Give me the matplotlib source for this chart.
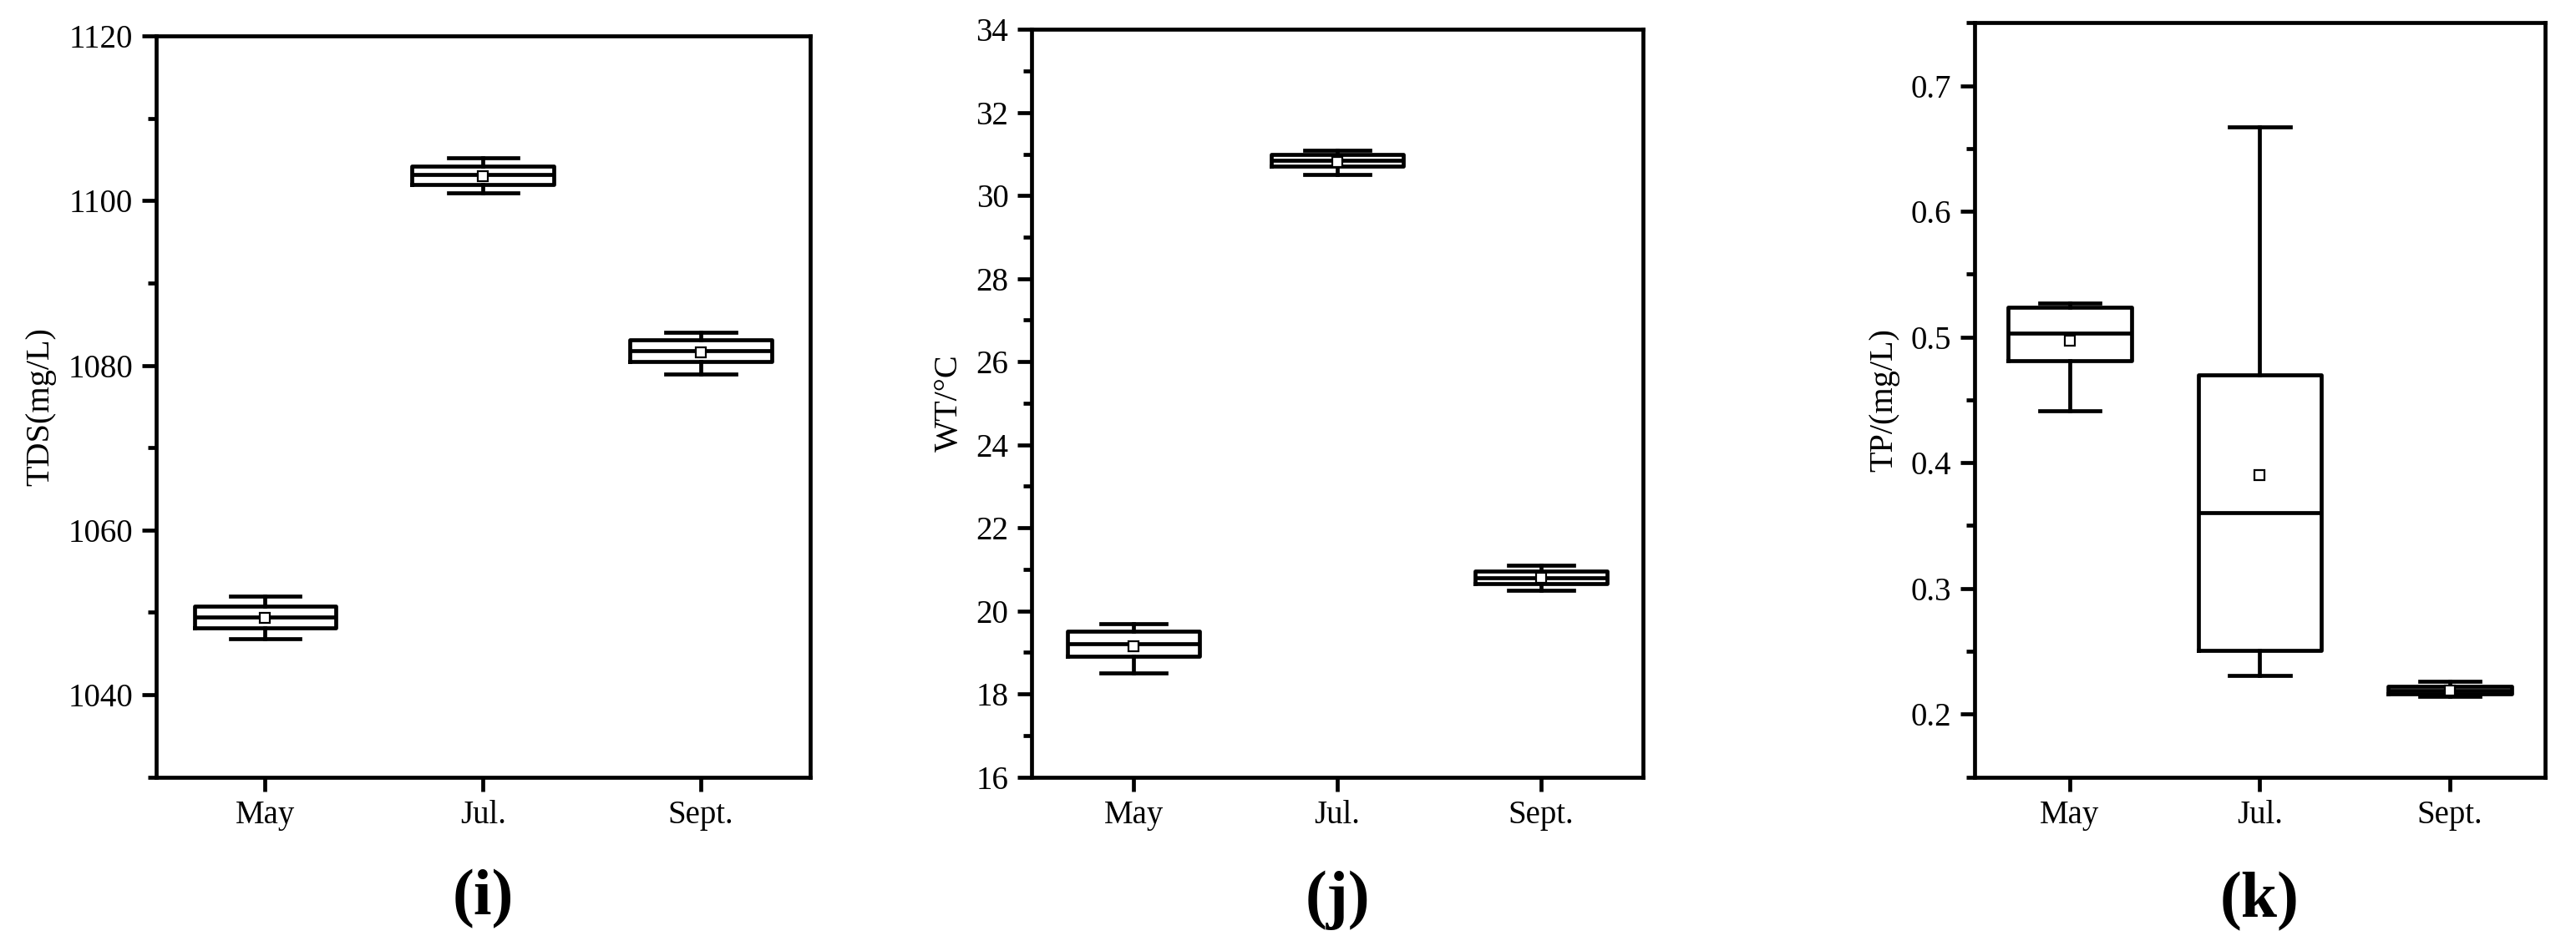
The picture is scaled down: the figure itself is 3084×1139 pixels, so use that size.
import matplotlib
matplotlib.use("Agg")
import matplotlib.pyplot as plt
from matplotlib.ticker import MultipleLocator, AutoMinorLocator

plt.rcParams['font.family'] = ['Liberation Serif', 'DejaVu Serif']

months = ["May", "Jul.", "Sept."]

# TDS (mg/L): whislo, q1, med, q3, whishi, mean
tds_lo = [1046.8, 1101.0, 1078.9]
tds_q1 = [1048.1, 1102.0, 1080.5]
tds_med = [1049.4, 1103.2, 1081.8]
tds_q3 = [1050.7, 1104.2, 1083.1]
tds_hi = [1052.0, 1105.2, 1084.0]
tds_mean = [1049.3, 1103.0, 1081.6]

# WT (°C)
wt_lo = [18.5, 30.5, 20.5]
wt_q1 = [18.9, 30.7, 20.65]
wt_med = [19.2, 30.85, 20.8]
wt_q3 = [19.5, 31.0, 20.95]
wt_hi = [19.7, 31.1, 21.1]
wt_mean = [19.15, 30.8, 20.8]

# TP (mg/L)
tp_lo = [0.441, 0.231, 0.214]
tp_q1 = [0.481, 0.251, 0.216]
tp_med = [0.503, 0.360, 0.219]
tp_q3 = [0.524, 0.470, 0.222]
tp_hi = [0.527, 0.667, 0.226]
tp_mean = [0.497, 0.390, 0.219]

panels = [
    dict(lo=tds_lo, q1=tds_q1, med=tds_med, q3=tds_q3, hi=tds_hi, mean=tds_mean,
         ylabel="TDS(mg/L)", ylim=(1030, 1120), major=20, tag="(i)",
         rect=[0.0606, 0.183, 0.2538, 0.779]),
    dict(lo=wt_lo, q1=wt_q1, med=wt_med, q3=wt_q3, hi=wt_hi, mean=wt_mean,
         ylabel="WT/°C", ylim=(16, 34), major=2, tag="(j)",
         rect=[0.4005, 0.183, 0.2373, 0.786]),
    dict(lo=tp_lo, q1=tp_q1, med=tp_med, q3=tp_q3, hi=tp_hi, mean=tp_mean,
         ylabel="TP/(mg/L)", ylim=(0.15, 0.75), major=0.1, tag="(k)",
         rect=[0.7666, 0.183, 0.2213, 0.793]),
]

fig = plt.figure(figsize=(30.84, 11.39), dpi=100)
lw = 3.4
for p in panels:
    ax = fig.add_axes(p["rect"])
    stats = []
    for i, m in enumerate(months):
        stats.append(dict(label=m, whislo=p["lo"][i], q1=p["q1"][i], med=p["med"][i],
                          q3=p["q3"][i], whishi=p["hi"][i], mean=p["mean"][i]))
    ax.bxp(stats, positions=[1, 2, 3], widths=0.65, showmeans=True, showfliers=False,
           boxprops=dict(color="black", linewidth=lw),
           medianprops=dict(color="black", linewidth=lw),
           whiskerprops=dict(color="black", linewidth=lw),
           capprops=dict(color="black", linewidth=lw), capwidths=0.32,
           meanprops=dict(marker="s", markerfacecolor="white", markeredgecolor="black",
                          markersize=8, markeredgewidth=1.6))
    ax.set_xlim(0.5, 3.5)
    ax.set_ylim(*p["ylim"])
    ax.yaxis.set_major_locator(MultipleLocator(p["major"]))
    ax.yaxis.set_minor_locator(AutoMinorLocator(2))
    ax.tick_params(axis="both", which="major", direction="out", length=12, width=lw,
                   labelsize=28, pad=8)
    ax.tick_params(axis="y", which="minor", direction="out", length=7, width=lw)
    ax.tick_params(axis="x", which="minor", bottom=False)
    for s in ax.spines.values():
        s.set_linewidth(lw)
    ax.set_ylabel(p["ylabel"], fontsize=29, labelpad=10)
    ax.text(0.5, -0.165, p["tag"], transform=ax.transAxes, ha="center", va="center",
            fontsize=56, fontweight="bold")

fig.savefig("out.png", dpi=100)
